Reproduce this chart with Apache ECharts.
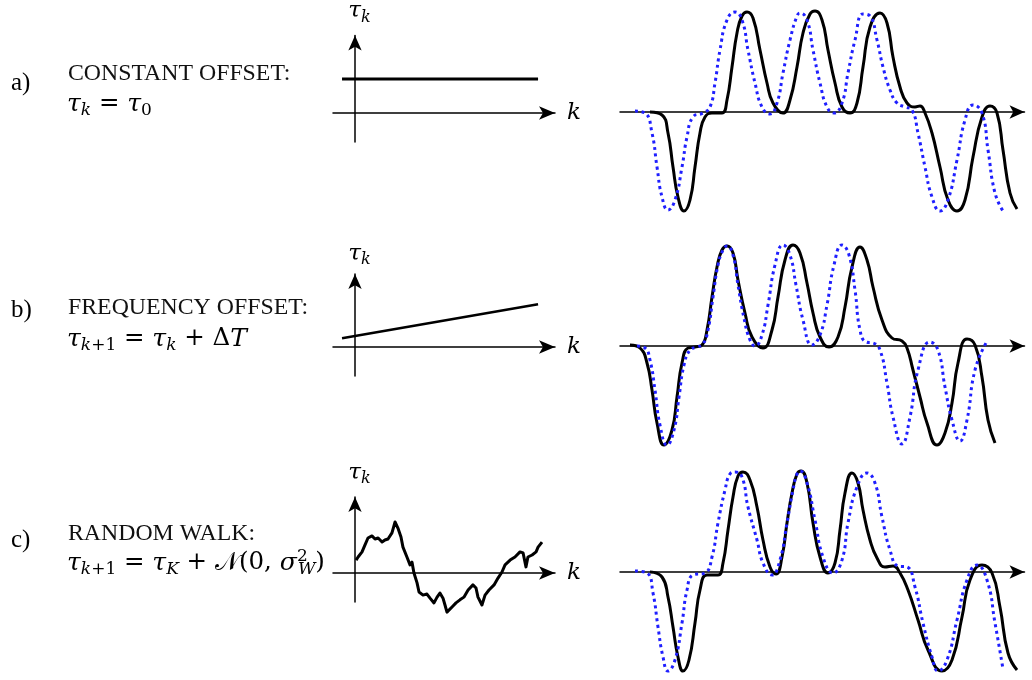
<!DOCTYPE html>
<html><head><meta charset="utf-8">
<script src="https://cdn.jsdelivr.net/npm/echarts@6/dist/echarts.min.js"></script>
<style>html,body{margin:0;padding:0;background:#fff}#c{width:1032px;height:680px}</style>
</head><body><div id="c"></div><script>
// ---- tau_k panels (k, tau) ----
const tauConst = [[-0.59, 1.0], [8.32, 1.0]];
const tauLinear = [[-0.59, 0.26], [8.32, 1.26]];
const tauWalk = [[0.05,0.38],[0.14,0.47],[0.32,0.62],[0.45,0.82],[0.59,1.03],[0.77,1.09],[0.91,1.0],[1.05,1.03],[1.23,0.91],[1.36,0.97],[1.5,1.0],[1.68,1.18],[1.82,1.5],[1.95,1.32],[2.09,1.06],[2.18,0.76],[2.36,0.47],[2.5,0.24],[2.59,0.32],[2.68,0.0],[2.82,-0.29],[2.91,-0.56],[3.09,-0.65],[3.27,-0.62],[3.41,-0.74],[3.59,-0.88],[3.73,-0.71],[3.86,-0.59],[4.0,-0.74],[4.09,-0.94],[4.18,-1.15],[4.41,-1.0],[4.59,-0.88],[4.77,-0.79],[4.95,-0.71],[5.14,-0.5],[5.36,-0.35],[5.5,-0.44],[5.59,-0.71],[5.77,-0.94],[5.91,-0.65],[6.09,-0.5],[6.32,-0.35],[6.5,-0.15],[6.68,0.03],[6.82,0.24],[7.05,0.38],[7.27,0.47],[7.5,0.62],[7.64,0.59],[7.77,0.18],[7.86,0.47],[8.05,0.53],[8.23,0.62],[8.32,0.76],[8.5,0.91]];

// ---- waveforms (t, amplitude) ----
const blackA = [[3.0,0],[4.2,-0.03],[4.8,-0.21],[5.3,-0.55],[5.8,-0.85],[6.4,-0.99],[7.0,-0.88],[7.5,-0.55],[8.0,-0.21],[8.5,-0.05],[9.2,-0.01],[10.2,-0.01],[10.7,0.12],[11.2,0.45],[11.7,0.79],[12.2,0.96],[12.7,1.0],[13.3,0.94],[14.0,0.62],[14.7,0.29],[15.3,0.09],[16.3,-0.01],[17.0,0.12],[17.7,0.45],[18.3,0.79],[19.0,0.98],[19.5,1.01],[20.2,0.92],[20.8,0.62],[21.5,0.29],[22.2,0.05],[23.0,-0.01],[23.7,0.09],[24.3,0.45],[25.0,0.85],[26.0,0.99],[26.7,0.89],[27.3,0.55],[28.0,0.25],[28.7,0.09],[29.5,0.05],[30.0,0.06],[30.5,-0.01],[31.2,-0.21],[32.0,-0.55],[32.8,-0.88],[33.7,-0.99],[34.5,-0.88],[35.3,-0.45],[36.2,-0.05],[37.0,0.06],[37.7,-0.01],[38.3,-0.38],[39.0,-0.81],[39.7,-0.97]];
const blueA = [[1.5,0.01],[2.5,-0.01],[3.2,-0.21],[3.7,-0.55],[4.2,-0.85],[4.8,-0.98],[5.5,-0.88],[6.2,-0.55],[6.7,-0.25],[7.3,-0.05],[8.3,-0.01],[9.0,0.05],[9.5,0.29],[10.0,0.62],[10.7,0.92],[11.5,1.0],[12.2,0.92],[12.8,0.62],[13.5,0.29],[14.2,0.05],[15.0,-0.02],[15.7,0.09],[16.3,0.39],[17.0,0.72],[17.7,0.96],[18.0,0.99],[18.7,0.92],[19.3,0.62],[20.0,0.29],[20.7,0.05],[21.4,-0.01],[22.2,0.09],[22.8,0.39],[23.5,0.72],[24.3,0.98],[25.0,0.96],[25.7,0.72],[26.3,0.45],[27.0,0.22],[27.7,0.09],[28.5,0.05],[29.2,0.02],[29.8,-0.21],[30.5,-0.55],[31.2,-0.85],[32.0,-0.99],[32.8,-0.88],[33.7,-0.48],[34.5,-0.08],[35.3,0.07],[36.2,-0.01],[36.8,-0.38],[37.5,-0.81],[38.3,-0.99]];
const blackB = [[1.0,0.01],[2.0,-0.02],[2.7,-0.17],[3.2,-0.44],[3.7,-0.77],[4.4,-0.99],[5.2,-0.84],[5.7,-0.51],[6.2,-0.17],[6.8,-0.02],[7.5,-0.01],[8.2,0.01],[8.7,0.16],[9.2,0.49],[9.7,0.79],[10.2,0.96],[10.7,1.0],[11.3,0.93],[11.8,0.66],[12.5,0.33],[13.2,0.09],[14.3,-0.02],[15.2,0.16],[15.8,0.49],[16.5,0.86],[17.3,1.01],[18.0,0.93],[18.7,0.63],[19.3,0.33],[20.0,0.09],[20.9,-0.01],[21.8,0.09],[22.5,0.39],[23.2,0.79],[24.0,0.99],[24.7,0.86],[25.3,0.59],[26.2,0.26],[27.2,0.08],[28.2,0.05],[28.7,-0.02],[29.3,-0.24],[30.0,-0.51],[30.7,-0.77],[31.7,-0.99],[32.5,-0.87],[33.2,-0.57],[33.8,-0.17],[34.7,0.07],[35.5,0.01],[36.2,-0.31],[36.8,-0.74],[37.5,-0.97]];
const blueB = [[1.7,0],[2.5,-0.02],[3.0,-0.14],[3.5,-0.44],[4.0,-0.79],[4.7,-0.99],[5.4,-0.84],[5.9,-0.51],[6.4,-0.19],[7.0,-0.04],[7.7,-0.01],[8.3,0.02],[8.8,0.16],[9.3,0.49],[9.8,0.81],[10.3,0.96],[10.7,1.0],[11.3,0.91],[11.8,0.61],[12.4,0.28],[13.0,0.06],[13.5,0.0],[14.2,0.11],[14.8,0.41],[15.5,0.81],[16.3,1.01],[17.0,0.91],[17.6,0.61],[18.3,0.26],[19.2,0.01],[20.0,0.11],[20.7,0.41],[21.4,0.81],[22.2,1.01],[22.9,0.91],[23.5,0.56],[24.0,0.16],[24.6,0.04],[25.3,0.03],[26.0,-0.04],[26.7,-0.37],[27.3,-0.71],[28.2,-0.98],[29.0,-0.71],[29.8,-0.24],[31.0,0.04],[31.8,-0.04],[32.5,-0.41],[33.2,-0.74],[34.0,-0.95],[34.7,-0.74],[35.5,-0.24],[36.6,0.03]];
const blackC = [[3.0,0],[4.2,-0.05],[4.8,-0.25],[5.3,-0.55],[5.8,-0.85],[6.3,-0.99],[6.9,-0.88],[7.5,-0.51],[8.0,-0.18],[8.7,-0.03],[9.8,-0.03],[10.3,0.09],[10.8,0.42],[11.3,0.75],[11.8,0.96],[12.3,1.0],[13.0,0.92],[13.7,0.65],[14.3,0.32],[15.0,0.05],[15.6,-0.02],[16.2,0.15],[16.7,0.49],[17.2,0.79],[17.7,0.98],[18.1,1.01],[18.7,0.89],[19.3,0.49],[20.0,0.15],[20.8,-0.01],[21.5,0.09],[22.0,0.42],[22.5,0.79],[23.2,0.99],[23.8,0.89],[24.3,0.62],[25.0,0.32],[25.7,0.14],[26.5,0.05],[27.3,0.06],[28.0,-0.01],[28.8,-0.18],[29.8,-0.48],[30.8,-0.78],[32.2,-0.99],[33.2,-0.88],[34.2,-0.45],[35.0,-0.08],[36.2,0.07],[37.2,-0.01],[38.0,-0.35],[38.8,-0.81],[39.7,-0.98]];
const blueC = [[1.5,0.01],[2.7,-0.01],[3.3,-0.21],[3.8,-0.55],[4.3,-0.85],[4.8,-0.99],[5.5,-0.88],[6.2,-0.51],[6.7,-0.18],[7.3,-0.03],[8.5,-0.01],[9.2,0.15],[9.8,0.49],[10.5,0.82],[11.0,0.98],[11.5,1.0],[12.2,0.95],[12.8,0.65],[13.7,0.32],[14.3,0.09],[15.2,-0.03],[16.0,0.12],[16.7,0.49],[17.3,0.82],[17.7,0.98],[18.0,1.01],[18.7,0.89],[19.5,0.52],[20.3,0.15],[21.3,-0.01],[22.2,0.12],[22.8,0.49],[23.7,0.85],[24.7,0.99],[25.5,0.89],[26.2,0.55],[27.0,0.22],[27.8,0.06],[28.7,0.05],[29.5,-0.15],[30.3,-0.51],[31.2,-0.85],[31.8,-0.99],[32.7,-0.88],[33.7,-0.48],[34.7,-0.08],[35.7,0.07],[36.7,-0.08],[37.5,-0.51],[38.3,-0.97]];

// ---- texts ----
const rowLetters = ['a)', 'b)', 'c)'];
const rowTitles = ['CONSTANT OFFSET:', 'FREQUENCY OFFSET:', 'RANDOM WALK:'];
const rowFormulas = [
  '{m|τ}{s|k}{o| = }{m|τ}{n|0}',
  '{m|τ}{s|k}{n|+1}{o| = }{m|τ}{s|k}{o| + Δ}{m|T}',
  '{m|τ}{s|k}{n|+1}{o| = }{m|τ}{s|K}{o| + }{cal|𝒩}{o|(0,}{m| σ}{sup|2}{s|W}{o|)}'
];

const MATH = 'DejaVu Serif';
const mathRich = {
  m: {fontFamily: MATH, fontStyle: 'italic', fontSize: 25, lineHeight: 30, color: '#000'},
  o: {fontFamily: MATH, fontSize: 24.5, lineHeight: 30, color: '#000'},
  cal: {fontFamily: MATH, fontSize: 25, lineHeight: 30, color: '#000'},
  s: {fontFamily: MATH, fontStyle: 'italic', fontSize: 17, lineHeight: 17, verticalAlign: 'bottom', color: '#000'},
  n: {fontFamily: MATH, fontSize: 17, lineHeight: 17, verticalAlign: 'bottom', color: '#000'},
  sup: {fontFamily: MATH, fontSize: 17, lineHeight: 17, verticalAlign: 'top', width: 1, color: '#000'}
};

// layout (pixels)
const tauGrids = [
  {left: 333, top: 35.5, width: 222, height: 106.5, yMin: -0.853, yMax: 2.279, nameGap: 10},
  {left: 333, top: 274, width: 222, height: 102, yMin: -0.853, yMax: 2.147, nameGap: 6},
  {left: 333, top: 497, width: 222, height: 105, yMin: -0.853, yMax: 2.235, nameGap: 10}
];
const waveGrids = [
  {left: 620, top: 2, width: 404.5, height: 220},
  {left: 620, top: 236, width: 404.5, height: 220},
  {left: 620, top: 462, width: 404.5, height: 220}
];
const textRows = [
  {letterY: 83, titleY: 74, formulaY: 104},
  {letterY: 310, titleY: 308, formulaY: 339},
  {letterY: 540, titleY: 534, formulaY: 563}
];

const grids = [], xAxes = [], yAxes = [], series = [], graphics = [];
const axisLineStyle = {color: '#000', width: 1.5};

tauGrids.forEach((g, i) => {
  grids.push({left: g.left, top: g.top, width: g.width, height: g.height, containLabel: false, outerBoundsMode: 'none'});
  xAxes.push({type: 'value', gridIndex: i, min: -1, max: 9.09,
    axisLine: {show: true, onZero: true, symbol: ['none', 'arrow'], symbolSize: [10, 16], lineStyle: axisLineStyle},
    axisTick: {show: false}, axisLabel: {show: false}, splitLine: {show: false},
    name: 'k', nameLocation: 'end', nameGap: 12,
    nameTextStyle: {fontFamily: MATH, fontStyle: 'italic', fontSize: 23, color: '#000', padding: [0, 0, 6, 0]}});
  yAxes.push({type: 'value', gridIndex: i, min: g.yMin, max: g.yMax,
    axisLine: {show: true, onZero: true, symbol: ['none', 'arrow'], symbolSize: [10, 15], lineStyle: axisLineStyle},
    axisTick: {show: false}, axisLabel: {show: false}, splitLine: {show: false},
    name: '{m|τ}{s|k}', nameLocation: 'end', nameGap: g.nameGap,
    nameTextStyle: {rich: {
      m: {fontFamily: MATH, fontStyle: 'italic', fontSize: 23, lineHeight: 28, color: '#000'},
      s: {fontFamily: MATH, fontStyle: 'italic', fontSize: 16, lineHeight: 16, verticalAlign: 'bottom', color: '#000'}
    }, padding: [0, 0, 0, 9]}});
});
waveGrids.forEach((g, j) => {
  const i = j + 3;
  grids.push({left: g.left, top: g.top, width: g.width, height: g.height, containLabel: false, outerBoundsMode: 'none'});
  xAxes.push({type: 'value', gridIndex: i, min: 0, max: 40.45,
    axisLine: {show: true, onZero: true, symbol: ['none', 'arrow'], symbolSize: [10, 15], lineStyle: axisLineStyle},
    axisTick: {show: false}, axisLabel: {show: false}, splitLine: {show: false}});
  yAxes.push({type: 'value', gridIndex: i, min: -1.1, max: 1.1, show: false, splitLine: {show: false}});
});

const tauData = [tauConst, tauLinear, tauWalk];
tauData.forEach((d, i) => {
  series.push({type: 'line', xAxisIndex: i, yAxisIndex: i, data: d, showSymbol: false, symbol: 'none',
    clip: false, silent: true, lineStyle: {color: '#000', width: i === 1 ? 2.6 : 3, join: 'round'}});
});
const blacks = [blackA, blackB, blackC];
const blues = [blueA, blueB, blueC];
[0, 1, 2].forEach(j => {
  const i = j + 3;
  series.push({type: 'line', xAxisIndex: i, yAxisIndex: i, data: blacks[j], smooth: 0.5,
    showSymbol: false, symbol: 'none', clip: false, silent: true,
    lineStyle: {color: '#000', width: 3}});
  series.push({type: 'line', xAxisIndex: i, yAxisIndex: i, data: blues[j], smooth: 0.5,
    showSymbol: false, symbol: 'none', clip: false, silent: true,
    lineStyle: {color: '#1f1fff', width: 3, type: [3, 3.6], cap: 'butt'}});
});

textRows.forEach((r, i) => {
  graphics.push({type: 'text', x: 11, y: r.letterY, silent: true,
    style: {text: rowLetters[i], fontFamily: 'Liberation Serif', fontSize: 25, fill: '#000', verticalAlign: 'middle'}});
  graphics.push({type: 'text', x: 68, y: r.titleY, silent: true,
    style: {text: rowTitles[i], fontFamily: 'Liberation Serif', fontSize: 23.8, fill: '#111', verticalAlign: 'middle'}});
  graphics.push({type: 'text', x: 67, y: r.formulaY, silent: true,
    style: {text: rowFormulas[i], rich: mathRich, fill: '#000', verticalAlign: 'middle'}});
});

const chart = echarts.init(document.getElementById('c'), null, {renderer: 'canvas'});
chart.setOption({
  animation: false,
  backgroundColor: '#fff',
  grid: grids, xAxis: xAxes, yAxis: yAxes, series: series,
  graphic: graphics
});
</script></body></html>
